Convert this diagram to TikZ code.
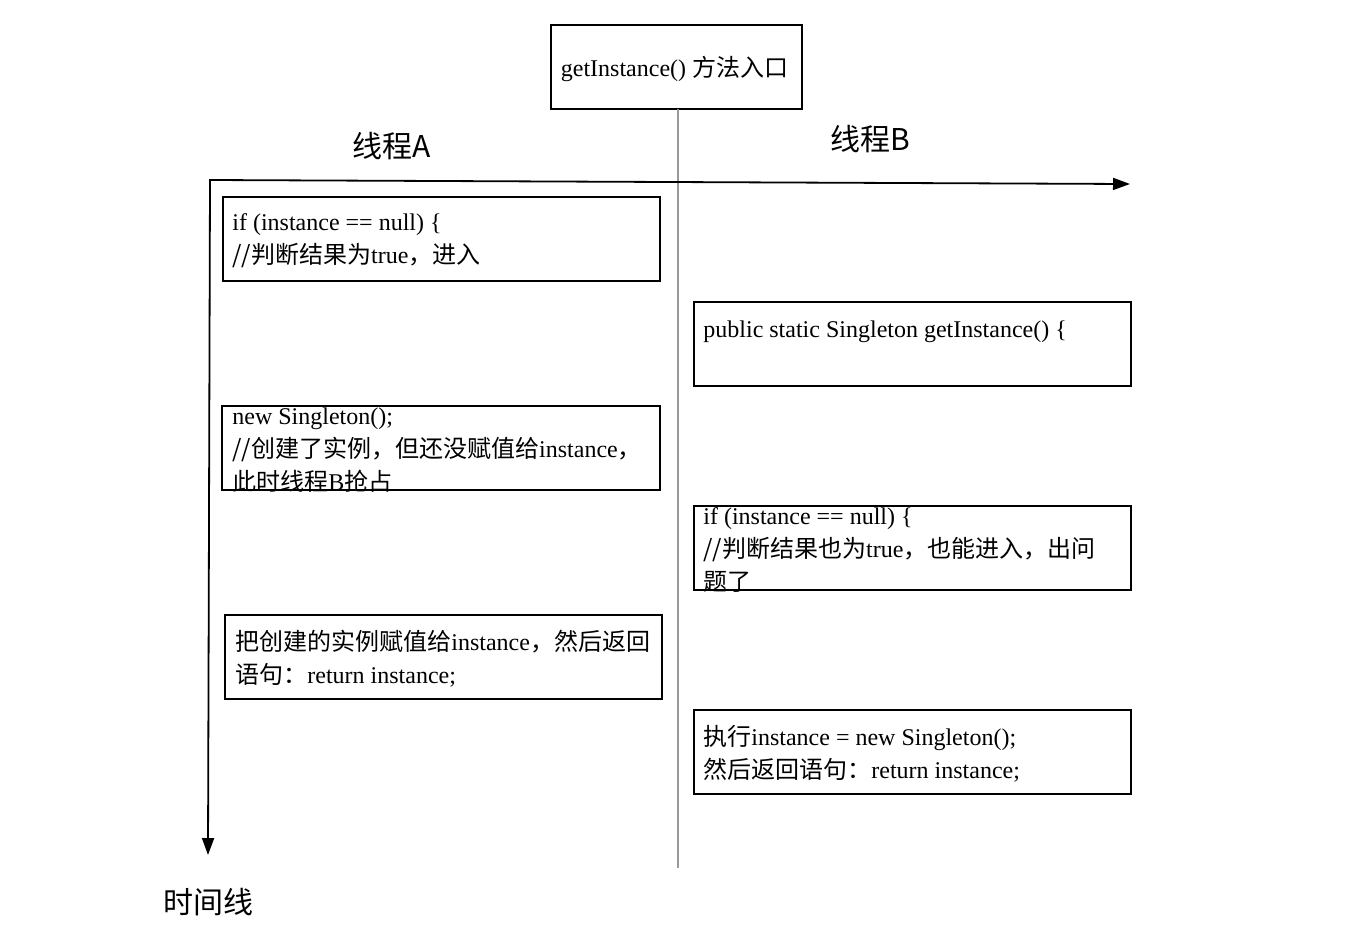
\documentclass[tikz,border=0pt]{standalone}
\usepackage{fontspec}
\setmainfont{Liberation Serif}
\newfontfamily\cjk{Noto Sans CJK SC}
\newcommand{\zh}[1]{{\cjk #1}}
\usetikzlibrary{arrows.meta}
\begin{document}
\begin{tikzpicture}[x=1pt,y=-1pt,
  codebox/.style={draw, line width=1.6pt, minimum width=437pt, minimum height=84pt, inner sep=0pt},
  boxtext/.style={anchor=west, align=left, inner sep=0pt, yshift=-2pt, font=\fontsize{24}{33}\selectfont},
  header/.style={font=\cjk\fontsize{30}{36}\selectfont, inner sep=0pt},
  axis/.style={line width=1.8pt, {Triangle[length=17pt,width=12pt]}-{Triangle[length=17pt,width=12pt]}},
  divider/.style={draw=black!40, line width=1.5pt}
]
\useasboundingbox (0,0) rectangle (1360,938);

% entry box
\node[draw, line width=1.6pt, minimum width=251pt, minimum height=84pt, inner sep=0pt] (entry) at (676.5,67) {};
\node[font=\fontsize{24}{33}\selectfont, inner sep=0pt] (entryt) at ([xshift=-2pt,yshift=-2pt]entry.center) {getInstance() \zh{方法入口}};
\coordinate (divtop) at (678,109);
\coordinate (divbot) at (678,868);
\draw[divider] (divtop) -- (divbot);

% axes
\coordinate (origin) at (210,180);
\coordinate (xend) at (1130,184);
\coordinate (yend) at (208,855);
\draw[axis] (xend) -- (origin) -- (yend);

% headers
\node[header] (ta) at (392,146) {线程A};
\node[header] (tb) at (870,139) {线程B};
\node[header] (tl) at (208,902) {时间线};

% thread A boxes
\node[codebox] (a1) at (441.5,239) {};
\node[boxtext, xshift=10pt] (a1t) at (a1.west) {if (instance == null) \{\\\zh{//判断结果为}true\zh{，进入}};

\node[codebox, minimum width=438pt] (a2) at (441,448) {};
\node[boxtext, xshift=11pt] (a2t) at (a2.west) {new Singleton();\\\zh{//创建了实例，但还没赋值给}instance\zh{，}\\\zh{此时线程}B\zh{抢占}};

\node[codebox] (a3) at (443.5,657) {};
\node[boxtext, xshift=11pt] (a3t) at (a3.west) {\zh{把创建的实例赋值给}instance\zh{，然后返回}\\\zh{语句：}return instance;};

% thread B boxes
\node[codebox] (b1) at (912.5,344) {};
\node[boxtext, xshift=10pt, yshift=14pt] (b1t) at (b1.west) {public static Singleton getInstance() \{};

\node[codebox] (b2) at (912.5,548) {};
\node[boxtext, xshift=10pt] (b2t) at (b2.west) {if (instance == null) \{\\\zh{//判断结果也为}true\zh{，也能进入，出问}\\\zh{题了}};

\node[codebox] (b3) at (912.5,752) {};
\node[boxtext, xshift=10pt] (b3t) at (b3.west) {\zh{执行}instance = new Singleton();\\\zh{然后返回语句：}return instance;};
\end{tikzpicture}
\end{document}
